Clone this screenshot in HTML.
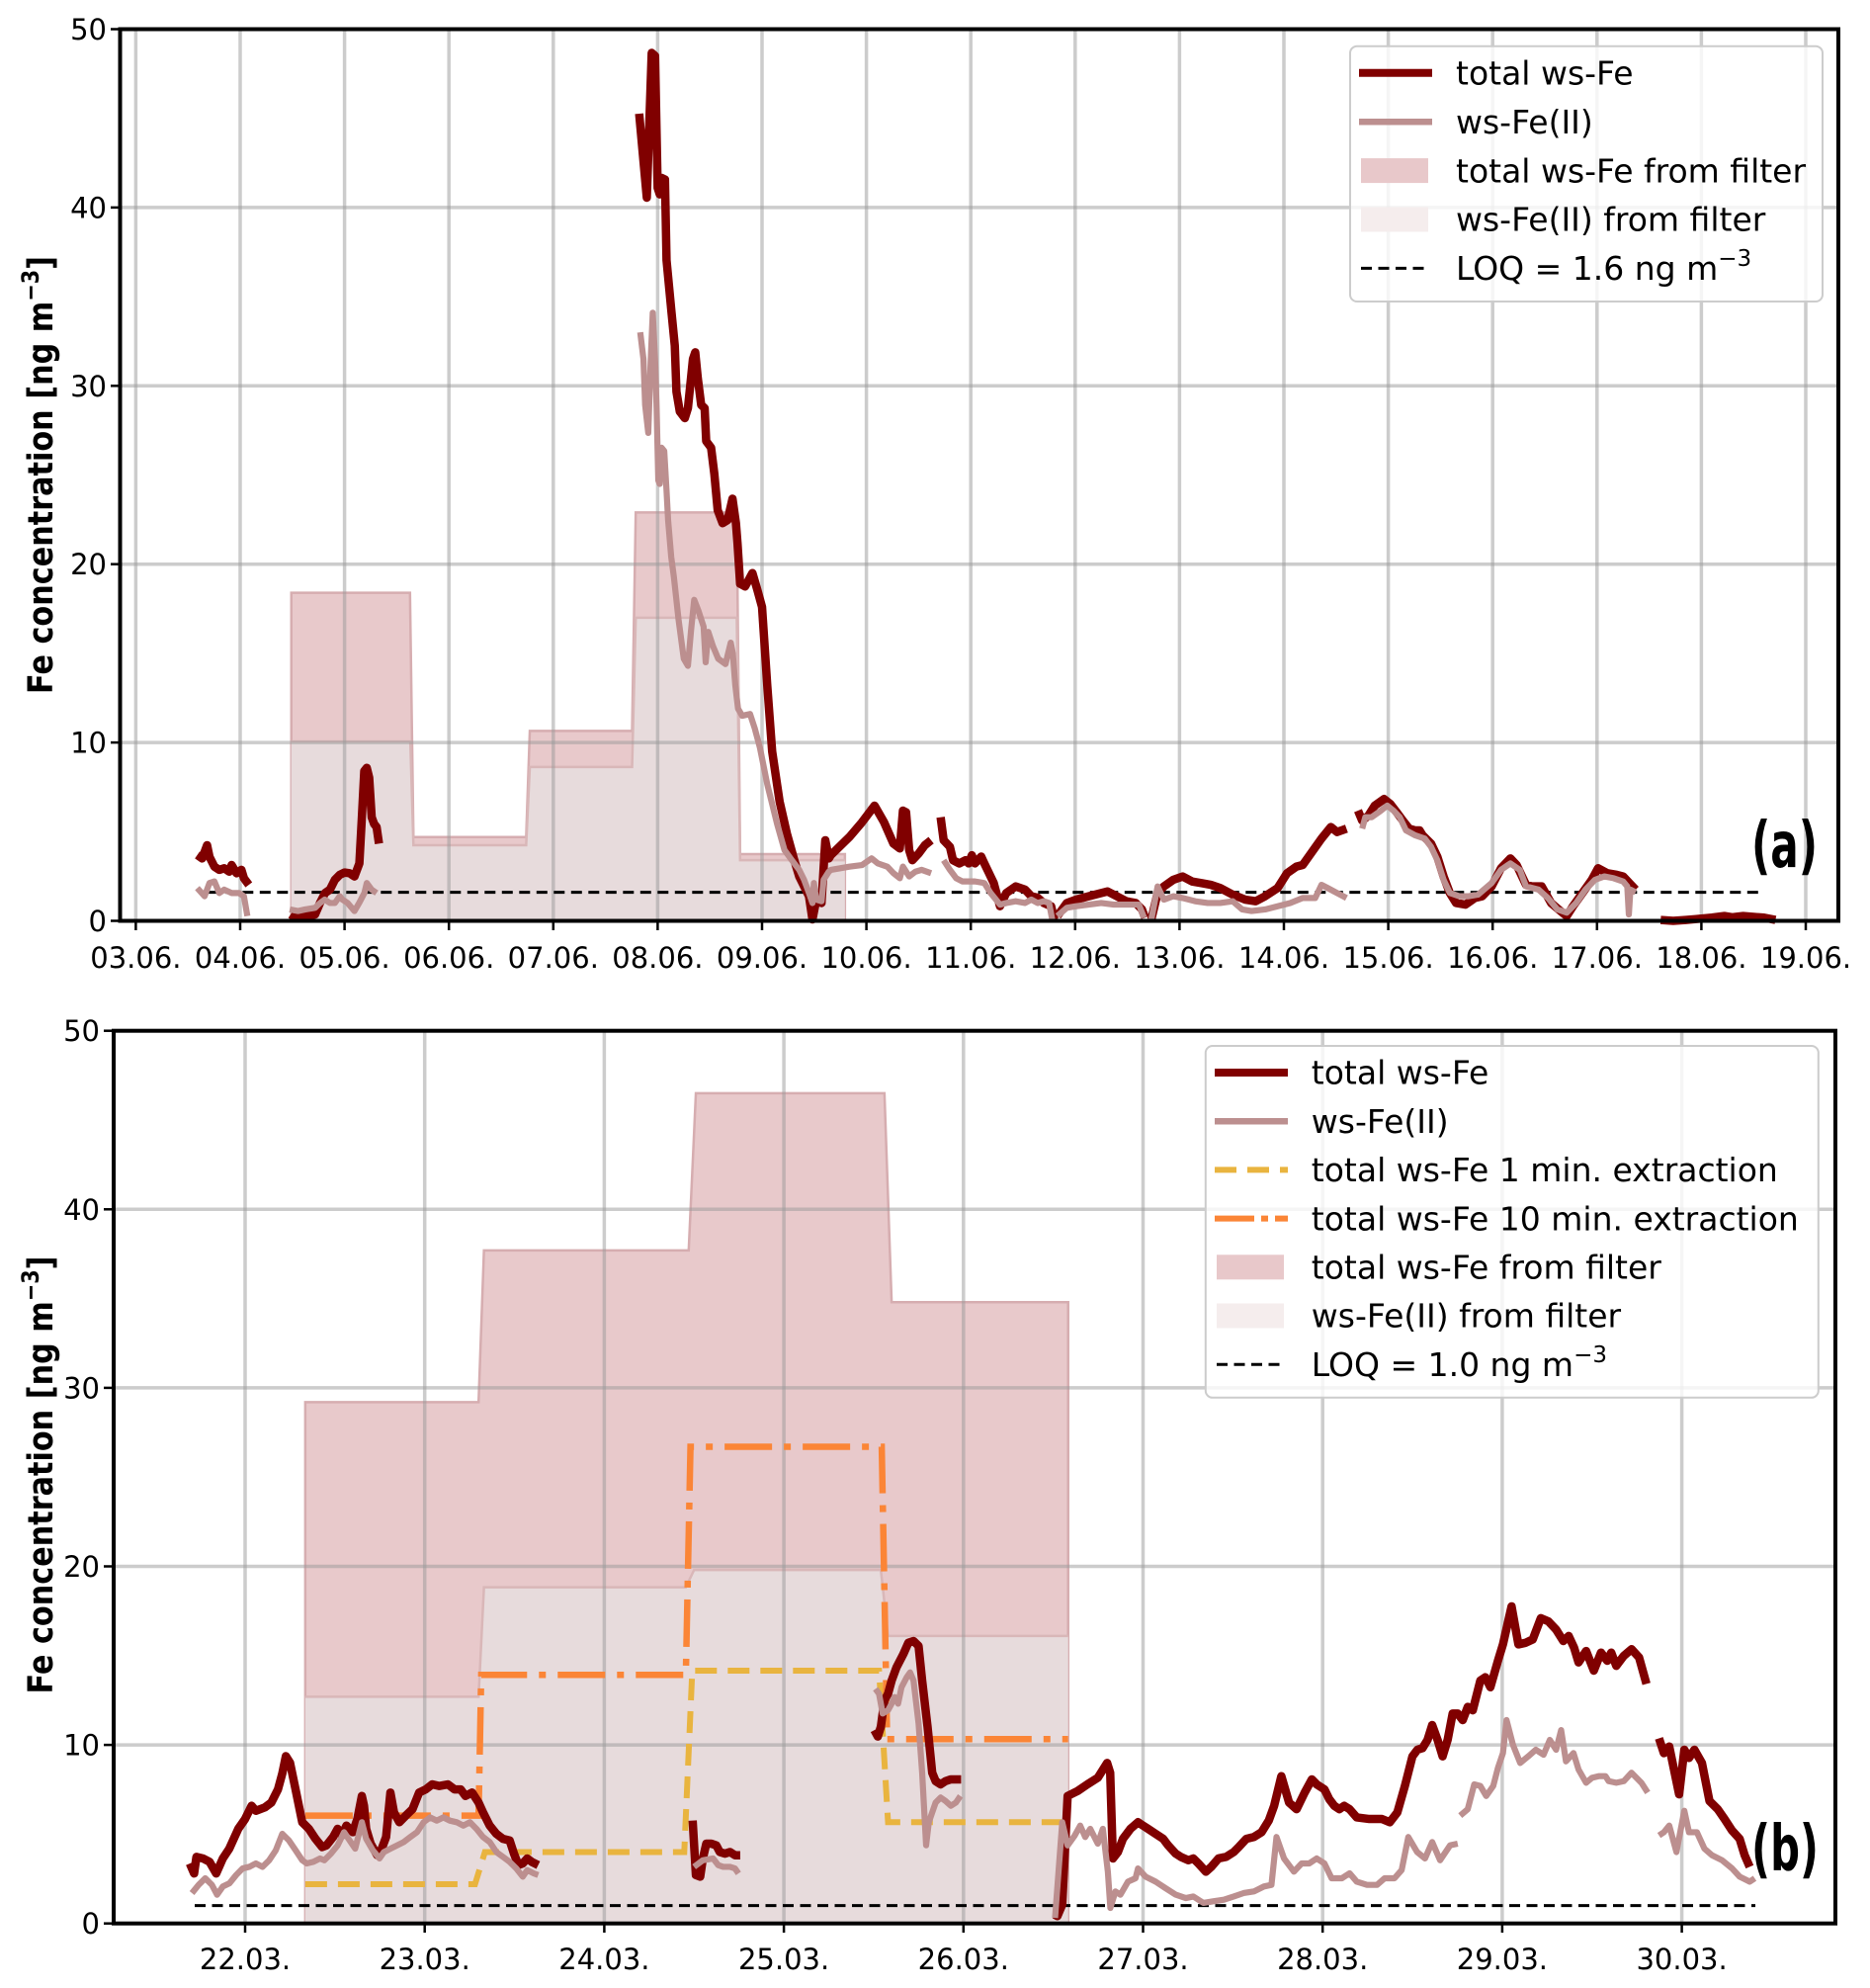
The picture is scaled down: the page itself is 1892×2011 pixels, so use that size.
<!DOCTYPE html>
<html>
<head>
<meta charset="utf-8">
<style>
  html,body{margin:0;padding:0;background:#fff;}
  svg{display:block;}
  text{font-family:"DejaVu Sans","Liberation Sans",sans-serif;fill:#000;}
  .tick{font-size:29px;}
  .leg{font-size:33px;}
  .tot{fill:none;stroke:#800000;stroke-width:8.5;stroke-linejoin:round;}
  .fe2{fill:none;stroke:#bc8f8f;stroke-width:6.2;stroke-linejoin:round;}
  .grid line{stroke:#9a9a9a;stroke-opacity:0.5;stroke-width:3.5;}
  .tk line{stroke:#000;stroke-width:2.5;}
</style>
</head>
<body>
<svg width="1892" height="2011" viewBox="0 0 1892 2011" xmlns="http://www.w3.org/2000/svg">
<rect x="0" y="0" width="1892" height="2011" fill="#fff"/>

<!-- ================= PANEL A ================= -->
<g transform="matrix(105.6,0,0,-18.04,137.4,931.5)">
  <polygon fill="#e8c9cb" points="1.49,0 1.49,18.4 2.627,18.4 2.66,4.7 3.74,4.7 3.775,10.65 4.755,10.65 4.79,22.9 5.758,22.9 5.79,3.74 6.794,3.74 6.794,0"/>
  <polyline fill="none" stroke="#d6adb0" stroke-width="2.5" vector-effect="non-scaling-stroke" points="1.49,0 1.49,18.4 2.627,18.4 2.66,4.7 3.74,4.7 3.775,10.65 4.755,10.65 4.79,22.9 5.758,22.9 5.79,3.74 6.794,3.74 6.794,0"/>
  <polygon fill="#e7dbdc" points="1.49,0 1.49,10.06 2.63,10.06 2.66,4.24 3.74,4.24 3.775,8.63 4.755,8.63 4.79,17.0 5.758,17.0 5.79,3.4 6.794,3.4 6.794,0"/>
  <polyline fill="none" stroke="#d9b7b8" stroke-width="2.5" vector-effect="non-scaling-stroke" points="1.49,10.06 2.63,10.06 2.66,4.24 3.74,4.24 3.775,8.63 4.755,8.63 4.79,17.0 5.758,17.0 5.79,3.4 6.794,3.4"/>
</g>

<g class="grid">
  <line x1="137.4" y1="29.5" x2="137.4" y2="931.5"/>
  <line x1="243.0" y1="29.5" x2="243.0" y2="931.5"/>
  <line x1="348.6" y1="29.5" x2="348.6" y2="931.5"/>
  <line x1="454.2" y1="29.5" x2="454.2" y2="931.5"/>
  <line x1="559.8" y1="29.5" x2="559.8" y2="931.5"/>
  <line x1="665.4" y1="29.5" x2="665.4" y2="931.5"/>
  <line x1="771.0" y1="29.5" x2="771.0" y2="931.5"/>
  <line x1="876.6" y1="29.5" x2="876.6" y2="931.5"/>
  <line x1="982.2" y1="29.5" x2="982.2" y2="931.5"/>
  <line x1="1087.8" y1="29.5" x2="1087.8" y2="931.5"/>
  <line x1="1193.4" y1="29.5" x2="1193.4" y2="931.5"/>
  <line x1="1299.0" y1="29.5" x2="1299.0" y2="931.5"/>
  <line x1="1404.6" y1="29.5" x2="1404.6" y2="931.5"/>
  <line x1="1510.2" y1="29.5" x2="1510.2" y2="931.5"/>
  <line x1="1615.8" y1="29.5" x2="1615.8" y2="931.5"/>
  <line x1="1721.4" y1="29.5" x2="1721.4" y2="931.5"/>
  <line x1="1827.0" y1="29.5" x2="1827.0" y2="931.5"/>
  <line x1="121.5" y1="751.1" x2="1860" y2="751.1"/>
  <line x1="121.5" y1="570.7" x2="1860" y2="570.7"/>
  <line x1="121.5" y1="390.3" x2="1860" y2="390.3"/>
  <line x1="121.5" y1="209.9" x2="1860" y2="209.9"/>
</g>

<!-- LOQ a -->
<line x1="210.3" y1="902.6" x2="1779.5" y2="902.6" stroke="#000" stroke-width="3" stroke-dasharray="11 6.5"/>

<g transform="matrix(105.6,0,0,-18.04,137.4,931.5)">
  <!-- total ws-Fe -->
  <polyline class="tot" vector-effect="non-scaling-stroke" points="0.589,3.69 0.636,3.50 0.683,4.24 0.706,3.59 0.753,3.04 0.800,2.86 0.847,2.95 0.895,2.76 0.918,3.13 0.965,2.67 1.012,2.86 1.036,2.39 1.083,2.02"/>
  <polyline class="tot" vector-effect="non-scaling-stroke" points="1.483,0.36 1.53,0.18 1.624,0.27 1.718,0.36 1.765,1.0 1.813,1.56 1.86,1.75 1.907,2.3 1.954,2.58 2.0,2.71 2.048,2.67 2.095,2.49 2.142,3.22 2.166,5.81 2.189,8.4 2.213,8.58 2.236,8.03 2.26,5.81 2.283,5.44 2.307,5.26 2.33,4.33"/>
  <polyline class="tot" vector-effect="non-scaling-stroke" points="4.823,45.26 4.896,40.55 4.943,48.67 4.975,48.5 5.0,41.1 5.02,40.74 5.038,41.66 5.07,41.57 5.085,37.05 5.133,34.1 5.164,32.25 5.18,29.67 5.212,28.56 5.26,28.19 5.29,28.75 5.338,31.5 5.36,31.88 5.385,30.4 5.417,28.93 5.45,28.75 5.465,26.9 5.512,26.53 5.543,25.06 5.575,23.03 5.622,22.3 5.67,22.47 5.717,23.67 5.75,22.3 5.765,21.18 5.79,18.9 5.838,18.75 5.908,19.5 5.955,18.56 6.0,17.6 6.05,13.2 6.097,9.5 6.168,6.7 6.238,4.9 6.309,3.4 6.356,2.49 6.403,1.93 6.45,1.38 6.483,0.08 6.52,1.19 6.57,1.0 6.606,4.52 6.64,3.5 6.66,3.69 6.837,4.7 6.958,5.53 7.078,6.46 7.169,5.53 7.259,4.33 7.32,4.06 7.35,6.18 7.38,6.09 7.41,3.96 7.44,3.40 7.5,3.77 7.56,4.24 7.62,4.52"/>
  <polyline class="tot" vector-effect="non-scaling-stroke" points="7.711,5.81 7.74,4.52 7.80,4.15 7.83,3.4 7.89,3.22 7.95,3.4 7.98,3.22 8.01,3.68 8.04,3.22 8.10,3.6 8.13,3.22 8.175,2.67 8.22,2.12 8.28,0.82 8.34,1.56 8.43,1.93 8.52,1.75 8.58,1.38 8.64,1.3 8.7,1.0 8.77,0.82 8.8,0.08"/>
  <polyline class="tot" vector-effect="non-scaling-stroke" points="8.83,0.27 8.92,1.0 9.01,1.19 9.13,1.38 9.25,1.56 9.31,1.65 9.37,1.47 9.49,1.1 9.58,1.0 9.64,0.64 9.67,0.18"/>
  <polyline class="tot" vector-effect="non-scaling-stroke" points="9.73,0.08 9.79,1.56 9.85,1.93 9.94,2.3 10.03,2.49 10.12,2.21 10.21,2.12 10.3,2.02 10.39,1.84 10.51,1.47 10.63,1.19 10.73,1.1 10.82,1.38 10.94,1.84 11.03,2.67 11.12,3.04 11.18,3.13 11.27,3.87 11.36,4.61 11.45,5.26 11.51,4.98 11.6,5.17"/>
  <polyline class="tot" vector-effect="non-scaling-stroke" points="11.71,6.18 11.75,5.62 11.81,5.9 11.87,6.46 11.96,6.83 12.02,6.55 12.08,6.09 12.14,5.62 12.2,5.17 12.26,5.07 12.3,5.07 12.33,4.79 12.41,4.33 12.47,3.6 12.53,2.49 12.59,1.56 12.65,1.0 12.74,0.91 12.83,1.28 12.9,1.38 12.99,1.93 13.08,2.95 13.17,3.5 13.23,3.13 13.32,2.02 13.38,1.93 13.47,1.93 13.56,1.0 13.65,0.55 13.71,0.27 13.77,0.82 13.86,1.56 13.95,2.3 14.01,2.95 14.1,2.67 14.19,2.58 14.25,2.49 14.31,2.12 14.37,1.75"/>
  <polyline class="tot" vector-effect="non-scaling-stroke" points="14.61,0.05 14.73,0.0 14.85,0.05 14.95,0.1 15.1,0.18 15.22,0.27 15.3,0.2 15.4,0.27 15.5,0.22 15.6,0.18 15.71,0.05"/>

  <!-- ws-Fe(II) -->
  <polyline class="fe2" vector-effect="non-scaling-stroke" points="0.589,1.84 0.659,1.38 0.706,2.12 0.753,2.21 0.8,1.56 0.847,1.75 0.918,1.56 0.989,1.56 1.036,1.38 1.069,0.27"/>
  <polyline class="fe2" vector-effect="non-scaling-stroke" points="1.474,0.64 1.554,0.55 1.624,0.64 1.718,0.73 1.765,1.0 1.81,1.19 1.86,1.0 1.907,1.0 1.954,1.38 1.98,1.19 2.03,1.0 2.095,0.55 2.14,1.0 2.19,1.56 2.213,2.12 2.26,1.75 2.307,1.56"/>
  <polyline class="fe2" vector-effect="non-scaling-stroke" points="4.833,33.0 4.864,31.5 4.88,28.93 4.91,27.36 4.934,31.5 4.953,34.1 4.975,31.5 4.99,28.75 5.006,24.7 5.02,24.5 5.038,26.53 5.063,26.35 5.085,24.13 5.1,22.47 5.13,20.4 5.155,19.3 5.2,16.9 5.25,14.7 5.29,14.3 5.32,16.3 5.35,18.0 5.39,17.4 5.44,16.5 5.46,14.5 5.485,16.2 5.53,15.4 5.58,14.7 5.65,14.4 5.7,15.6 5.72,15.0 5.744,13.2 5.77,11.9 5.81,11.5 5.885,11.6 5.93,10.8 5.98,9.7 6.05,7.66 6.144,5.44 6.215,3.97 6.286,3.4 6.356,2.86 6.403,2.3 6.45,1.56 6.483,1.0 6.497,2.12 6.52,1.19 6.57,1.1 6.59,2.3 6.64,2.76 6.66,2.86 6.837,3.04 6.958,3.13 7.05,3.5 7.11,3.22 7.2,3.04 7.26,2.67 7.32,2.39 7.35,3.04 7.41,2.49 7.47,2.76 7.53,2.86 7.62,2.67"/>
  <polyline class="fe2" vector-effect="non-scaling-stroke" points="7.74,3.4 7.8,2.86 7.86,2.39 7.92,2.21 8.04,2.21 8.13,2.12 8.19,1.56 8.28,0.91 8.34,1.0 8.43,1.1 8.52,1.0 8.58,1.19 8.64,1.0 8.7,1.1 8.75,1.0 8.78,0.08"/>
  <polyline class="fe2" vector-effect="non-scaling-stroke" points="8.83,0.27 8.92,0.73 9.01,0.82 9.13,0.91 9.25,1.0 9.37,0.91 9.49,0.91 9.61,0.91 9.66,0.18"/>
  <polyline class="fe2" vector-effect="non-scaling-stroke" points="9.73,0.08 9.79,1.93 9.85,1.19 9.94,1.38 10.03,1.28 10.15,1.1 10.27,1.0 10.39,1.0 10.51,1.1 10.6,0.64 10.69,0.55 10.82,0.64 10.94,0.82 11.06,1.0 11.18,1.28 11.3,1.28 11.36,2.02 11.42,1.84 11.51,1.56 11.6,1.28"/>
  <polyline class="fe2" vector-effect="non-scaling-stroke" points="11.75,5.17 11.78,5.81 11.84,5.81 11.93,6.18 11.99,6.46 12.05,6.18 12.11,5.81 12.17,5.07 12.26,4.79 12.35,4.61 12.41,4.15 12.47,3.4 12.53,2.3 12.59,1.56 12.68,1.38 12.77,1.38 12.86,1.47 12.99,2.12 13.08,2.86 13.17,3.22 13.26,2.86 13.32,1.93 13.44,1.75 13.53,1.28 13.62,0.64 13.71,0.46 13.8,1.0 13.89,1.75 13.98,2.3 14.07,2.49 14.16,2.39 14.25,2.21 14.29,1.93 14.305,0.36 14.32,1.75 14.37,1.6"/>
</g>

<!-- spines a -->
<rect x="121.5" y="29.5" width="1738.5" height="902" fill="none" stroke="#000" stroke-width="4"/>
<g class="tk">
  <line x1="137.4" y1="933" x2="137.4" y2="941"/><line x1="243.0" y1="933" x2="243.0" y2="941"/>
  <line x1="348.6" y1="933" x2="348.6" y2="941"/><line x1="454.2" y1="933" x2="454.2" y2="941"/>
  <line x1="559.8" y1="933" x2="559.8" y2="941"/><line x1="665.4" y1="933" x2="665.4" y2="941"/>
  <line x1="771.0" y1="933" x2="771.0" y2="941"/><line x1="876.6" y1="933" x2="876.6" y2="941"/>
  <line x1="982.2" y1="933" x2="982.2" y2="941"/><line x1="1087.8" y1="933" x2="1087.8" y2="941"/>
  <line x1="1193.4" y1="933" x2="1193.4" y2="941"/><line x1="1299.0" y1="933" x2="1299.0" y2="941"/>
  <line x1="1404.6" y1="933" x2="1404.6" y2="941"/><line x1="1510.2" y1="933" x2="1510.2" y2="941"/>
  <line x1="1615.8" y1="933" x2="1615.8" y2="941"/><line x1="1721.4" y1="933" x2="1721.4" y2="941"/>
  <line x1="1827.0" y1="933" x2="1827.0" y2="941"/>
  <line x1="112" y1="931.5" x2="120" y2="931.5"/><line x1="112" y1="751.1" x2="120" y2="751.1"/>
  <line x1="112" y1="570.7" x2="120" y2="570.7"/><line x1="112" y1="390.3" x2="120" y2="390.3"/>
  <line x1="112" y1="209.9" x2="120" y2="209.9"/><line x1="112" y1="29.5" x2="120" y2="29.5"/>
</g>
<g class="tick" text-anchor="middle">
  <text x="137.4" y="979">03.06.</text><text x="243.0" y="979">04.06.</text>
  <text x="348.6" y="979">05.06.</text><text x="454.2" y="979">06.06.</text>
  <text x="559.8" y="979">07.06.</text><text x="665.4" y="979">08.06.</text>
  <text x="771.0" y="979">09.06.</text><text x="876.6" y="979">10.06.</text>
  <text x="982.2" y="979">11.06.</text><text x="1087.8" y="979">12.06.</text>
  <text x="1193.4" y="979">13.06.</text><text x="1299.0" y="979">14.06.</text>
  <text x="1404.6" y="979">15.06.</text><text x="1510.2" y="979">16.06.</text>
  <text x="1615.8" y="979">17.06.</text><text x="1721.4" y="979">18.06.</text>
  <text x="1827.0" y="979">19.06.</text>
</g>
<g class="tick" text-anchor="end">
  <text x="108" y="942">0</text><text x="108" y="761.6">10</text>
  <text x="108" y="581.2">20</text><text x="108" y="400.8">30</text>
  <text x="108" y="220.4">40</text><text x="108" y="40">50</text>
</g>
<text transform="translate(53,480.5) rotate(-90)" text-anchor="middle" font-weight="bold" font-size="35" textLength="443" lengthAdjust="spacingAndGlyphs">Fe concentration [ng m<tspan font-size="24" dy="-14">−3</tspan><tspan dy="14">]</tspan></text>
<text x="1772" y="877" font-weight="bold" font-size="64" textLength="67" lengthAdjust="spacingAndGlyphs">(a)</text>

<!-- legend a -->
<rect x="1366" y="46.7" width="478" height="258.3" rx="7" ry="7" fill="#fff" fill-opacity="0.8" stroke="#cccccc" stroke-width="2"/>
<line x1="1375" y1="73.8" x2="1449" y2="73.8" stroke="#800000" stroke-width="8"/>
<line x1="1375" y1="123.2" x2="1449" y2="123.2" stroke="#bc8f8f" stroke-width="6.5"/>
<rect x="1377" y="160.1" width="68" height="25" fill="#e8c8ca"/>
<rect x="1377" y="209.5" width="68" height="25" fill="#f5eded"/>
<line x1="1377" y1="271.4" x2="1447" y2="271.4" stroke="#000" stroke-width="3" stroke-dasharray="11 6.5"/>
<g class="leg">
  <text x="1473" y="85.5">total ws-Fe</text>
  <text x="1473" y="134.9">ws-Fe(II)</text>
  <text x="1473" y="184.3">total ws-Fe from filter</text>
  <text x="1473" y="233.7">ws-Fe(II) from filter</text>
  <text x="1473" y="283.1">LOQ = 1.6 ng m<tspan font-size="23" dy="-14">−3</tspan></text>
</g>

<!-- ================= PANEL B ================= -->
<g transform="matrix(181.7,0,0,-18.06,248,1945.7)">
  <polygon fill="#e8c9cb" points="0.335,0 0.335,29.2 1.30,29.2 1.33,37.7 2.47,37.7 2.51,46.5 3.56,46.5 3.60,34.8 4.583,34.8 4.583,0"/>
  <polyline fill="none" stroke="#d6adb0" stroke-width="2.5" vector-effect="non-scaling-stroke" points="0.335,0 0.335,29.2 1.30,29.2 1.33,37.7 2.47,37.7 2.51,46.5 3.56,46.5 3.60,34.8 4.583,34.8 4.583,0"/>
  <polygon fill="#e7dbdc" points="0.335,0 0.335,12.7 1.30,12.7 1.33,18.83 2.454,18.83 2.50,19.8 3.54,19.8 3.58,16.1 4.583,16.1 4.583,0"/>
  <polyline fill="none" stroke="#d9b7b8" stroke-width="2.5" vector-effect="non-scaling-stroke" points="0.335,12.7 1.30,12.7 1.33,18.83 2.454,18.83 2.50,19.8 3.54,19.8 3.58,16.1 4.583,16.1"/>
</g>

<g class="grid">
  <line x1="248" y1="1042.7" x2="248" y2="1945.7"/>
  <line x1="429.7" y1="1042.7" x2="429.7" y2="1945.7"/>
  <line x1="611.4" y1="1042.7" x2="611.4" y2="1945.7"/>
  <line x1="793.1" y1="1042.7" x2="793.1" y2="1945.7"/>
  <line x1="974.8" y1="1042.7" x2="974.8" y2="1945.7"/>
  <line x1="1156.5" y1="1042.7" x2="1156.5" y2="1945.7"/>
  <line x1="1338.2" y1="1042.7" x2="1338.2" y2="1945.7"/>
  <line x1="1519.9" y1="1042.7" x2="1519.9" y2="1945.7"/>
  <line x1="1701.6" y1="1042.7" x2="1701.6" y2="1945.7"/>
  <line x1="115" y1="1765.1" x2="1857" y2="1765.1"/>
  <line x1="115" y1="1584.5" x2="1857" y2="1584.5"/>
  <line x1="115" y1="1403.9" x2="1857" y2="1403.9"/>
  <line x1="115" y1="1223.3" x2="1857" y2="1223.3"/>
</g>

<!-- LOQ b -->
<line x1="197" y1="1927.6" x2="1776" y2="1927.6" stroke="#000" stroke-width="3" stroke-dasharray="11 6.5"/>
<!-- 1 min extraction (yellow dashed) -->
<polyline fill="none" stroke="#e9b43f" stroke-width="6" stroke-dasharray="22 11" points="308.9,1906.0 480.6,1906.0 490.6,1873.5 692.3,1873.5 700.4,1690.0 889.4,1690.0 898.5,1843.3 1080.7,1843.3"/>
<!-- 10 min extraction (orange dash-dot) -->
<polyline fill="none" stroke="#fb8536" stroke-width="6.5" stroke-dasharray="48 12 7 12" points="308.9,1836.6 484.2,1836.6 486.9,1694.3 693.9,1694.3 698.6,1463.5 892.1,1463.5 897.6,1759.3 1080.7,1759.3"/>

<g transform="matrix(181.7,0,0,-18.06,248,1945.7)">
  <polyline class="tot" vector-effect="non-scaling-stroke" points="-0.308,3.36 -0.284,2.8 -0.271,3.73 -0.234,3.64 -0.198,3.45 -0.161,2.8 -0.124,3.64 -0.088,4.19 -0.038,5.3 0.0,5.85 0.036,6.59 0.06,6.31 0.11,6.5 0.146,6.77 0.183,7.51 0.207,8.4 0.227,9.37 0.25,9.0 0.281,7.5 0.318,5.67 0.355,5.3 0.392,4.74 0.429,4.28 0.453,4.37 0.49,4.84 0.515,5.3 0.539,4.93 0.564,5.48 0.60,5.11 0.625,5.85 0.65,7.14 0.662,6.59 0.674,5.3 0.699,4.47 0.736,3.82 0.761,4.19 0.785,4.84 0.809,7.33 0.829,6.22 0.859,5.67 0.895,6.04 0.932,6.4 0.969,7.33 1.006,7.51 1.042,7.79 1.08,7.7 1.129,7.79 1.166,7.51 1.2,7.51 1.227,7.14 1.264,7.33 1.3,6.77 1.325,6.22 1.362,5.48 1.399,5.02 1.436,4.74 1.473,4.65 1.497,3.91 1.522,3.27 1.546,3.36 1.571,3.64 1.596,3.45 1.632,3.27"/>
  <polyline class="tot" vector-effect="non-scaling-stroke" points="2.492,5.76 2.51,2.71 2.534,2.62 2.549,3.64 2.568,4.47 2.596,4.47 2.624,4.37 2.643,4.0 2.672,3.91 2.7,4.0 2.728,3.82 2.757,3.82"/>
  <polyline class="tot" vector-effect="non-scaling-stroke" points="3.504,10.83 3.523,10.47 3.54,11.02 3.56,12.5 3.58,12.86 3.6,13.6 3.627,14.34 3.665,15.08 3.693,15.72 3.722,15.82 3.75,15.54 3.77,13.6 3.8,11.02 3.826,8.44 3.845,7.97 3.873,7.79 3.9,7.97 3.93,8.07 3.987,8.07"/>
  <polyline class="tot" vector-effect="non-scaling-stroke" points="4.507,0.5 4.523,0.41 4.55,1.05 4.58,7.14 4.636,7.42 4.69,7.79 4.748,8.16 4.8,8.99 4.817,8.44 4.832,3.64 4.86,4.0 4.888,4.74 4.93,5.3 4.972,5.67 5.0,5.48 5.028,5.3 5.07,5.02 5.112,4.74 5.14,4.37 5.182,3.91 5.21,3.73 5.252,3.54 5.28,3.64 5.308,3.36 5.35,2.9 5.38,3.17 5.42,3.64 5.463,3.73 5.505,4.0 5.533,4.28 5.575,4.74 5.617,4.84 5.66,5.11 5.7,5.76 5.73,6.59 5.77,8.25 5.813,6.77 5.855,6.4 5.9,7.33 5.94,8.07 5.967,7.79 6.01,7.51 6.037,6.96 6.065,6.59 6.093,6.4 6.12,6.59 6.15,6.4 6.19,5.94 6.26,5.85 6.33,5.85 6.374,5.67 6.416,6.22 6.458,7.7 6.5,9.36 6.528,9.73 6.556,9.82 6.584,10.28 6.61,11.11 6.64,10.28 6.668,9.36 6.696,10.28 6.724,11.76 6.752,11.76 6.78,11.39 6.808,12.13 6.836,11.94 6.878,13.6 6.906,13.79 6.934,13.23 6.976,14.71 7.004,15.63 7.052,17.76 7.09,15.63 7.13,15.72 7.17,15.91 7.215,17.1 7.257,16.92 7.3,16.46 7.34,15.82 7.37,16.1 7.4,15.45 7.425,14.62 7.467,15.26 7.51,14.16 7.55,15.17 7.585,14.71 7.607,15.17 7.635,14.43 7.677,14.99 7.72,15.36 7.762,14.9 7.803,13.42"/>
  <polyline class="tot" vector-effect="non-scaling-stroke" points="7.873,10.37 7.9,9.54 7.93,9.91 7.985,7.23 8.014,9.73 8.04,9.27 8.07,9.73 8.112,8.99 8.154,6.86 8.2,6.4 8.238,5.85 8.28,5.2 8.322,4.74 8.35,3.82 8.378,3.17"/>

  <polyline class="fe2" vector-effect="non-scaling-stroke" points="-0.296,1.7 -0.259,2.16 -0.222,2.53 -0.185,2.16 -0.156,1.61 -0.124,2.07 -0.087,2.25 -0.05,2.71 -0.014,3.08 0.023,3.17 0.06,3.36 0.097,3.17 0.134,3.54 0.171,4.1 0.207,5.02 0.244,4.65 0.281,4.1 0.318,3.54 0.343,3.36 0.38,3.45 0.417,3.64 0.441,3.54 0.478,3.91 0.515,4.37 0.551,5.11 0.588,4.56 0.613,4.19 0.65,5.67 0.674,4.74 0.711,4.1 0.748,3.64 0.773,4.0 0.81,4.19 0.846,4.37 0.883,4.56 0.92,4.84 0.957,5.11 0.994,5.67 1.03,5.94 1.067,5.76 1.104,5.94 1.14,5.76 1.178,5.67 1.215,5.48 1.252,5.67 1.288,5.3 1.325,4.84 1.362,4.56 1.399,4.0 1.436,3.73 1.473,3.45 1.51,3.08 1.546,2.62 1.571,2.99 1.608,2.8 1.632,2.71"/>
  <polyline class="fe2" vector-effect="non-scaling-stroke" points="2.5,3.17 2.549,3.54 2.606,3.64 2.634,3.27 2.662,3.17 2.7,3.17 2.728,3.08 2.747,2.8"/>
  <polyline class="fe2" vector-effect="non-scaling-stroke" points="3.51,13.14 3.53,12.86 3.55,11.76 3.58,11.94 3.6,12.31 3.617,12.68 3.636,12.31 3.655,13.23 3.684,13.79 3.703,14.06 3.722,13.6 3.75,11.2 3.77,8.44 3.792,4.38 3.807,5.67 3.826,6.22 3.845,6.77 3.873,7.05 3.9,6.86 3.93,6.59 3.958,6.77 3.983,7.14"/>
  <polyline class="fe2" vector-effect="non-scaling-stroke" points="4.51,0.31 4.55,5.67 4.58,4.37 4.62,4.93 4.65,5.48 4.678,4.84 4.706,5.3 4.748,4.47 4.776,5.3 4.804,2.9 4.818,0.87 4.846,1.79 4.874,1.61 4.916,2.34 4.958,2.53 4.972,3.08 5.014,2.62 5.07,2.34 5.126,1.97 5.182,1.61 5.238,1.42 5.28,1.51 5.336,1.15 5.39,1.24 5.45,1.33 5.505,1.51 5.56,1.7 5.617,1.79 5.673,2.07 5.715,2.16 5.743,4.84 5.785,3.64 5.84,2.9 5.883,3.36 5.925,3.36 5.967,3.64 6.01,3.36 6.05,2.53 6.107,2.53 6.15,2.81 6.19,2.34 6.247,2.16 6.303,2.16 6.345,2.53 6.4,2.53 6.44,2.99 6.477,4.84 6.526,4.0 6.57,3.64 6.61,4.56 6.654,3.54 6.71,4.38 6.752,4.47"/>
  <polyline class="fe2" vector-effect="non-scaling-stroke" points="6.766,6.04 6.808,6.4 6.844,7.79 6.878,7.7 6.911,7.14 6.95,7.7 6.976,8.71 7.004,9.54 7.024,11.39 7.06,10.0 7.1,8.99 7.145,9.36 7.187,9.73 7.23,9.45 7.265,10.28 7.3,9.73 7.328,10.83 7.355,9.08 7.397,9.54 7.425,8.62 7.467,7.88 7.5,8.16 7.537,8.25 7.575,8.25 7.593,7.97 7.635,7.88 7.677,7.97 7.72,8.44 7.775,7.88 7.81,7.33"/>
  <polyline class="fe2" vector-effect="non-scaling-stroke" points="7.873,4.93 7.9,5.11 7.93,5.48 7.97,4.0 8.014,6.31 8.04,5.11 8.084,5.11 8.126,4.19 8.168,3.82 8.224,3.54 8.28,3.08 8.322,2.62 8.378,2.34 8.406,2.53"/>
</g>

<!-- spines b -->
<rect x="115" y="1042.7" width="1742" height="903" fill="none" stroke="#000" stroke-width="4"/>
<g class="tk">
  <line x1="248" y1="1947" x2="248" y2="1955"/><line x1="429.7" y1="1947" x2="429.7" y2="1955"/>
  <line x1="611.4" y1="1947" x2="611.4" y2="1955"/><line x1="793.1" y1="1947" x2="793.1" y2="1955"/>
  <line x1="974.8" y1="1947" x2="974.8" y2="1955"/><line x1="1156.5" y1="1947" x2="1156.5" y2="1955"/>
  <line x1="1338.2" y1="1947" x2="1338.2" y2="1955"/><line x1="1519.9" y1="1947" x2="1519.9" y2="1955"/>
  <line x1="1701.6" y1="1947" x2="1701.6" y2="1955"/>
  <line x1="105" y1="1945.7" x2="113" y2="1945.7"/><line x1="105" y1="1765.1" x2="113" y2="1765.1"/>
  <line x1="105" y1="1584.5" x2="113" y2="1584.5"/><line x1="105" y1="1403.9" x2="113" y2="1403.9"/>
  <line x1="105" y1="1223.3" x2="113" y2="1223.3"/><line x1="105" y1="1042.7" x2="113" y2="1042.7"/>
</g>
<g class="tick" text-anchor="middle">
  <text x="248" y="1992">22.03.</text><text x="429.7" y="1992">23.03.</text>
  <text x="611.4" y="1992">24.03.</text><text x="793.1" y="1992">25.03.</text>
  <text x="974.8" y="1992">26.03.</text><text x="1156.5" y="1992">27.03.</text>
  <text x="1338.2" y="1992">28.03.</text><text x="1519.9" y="1992">29.03.</text>
  <text x="1701.6" y="1992">30.03.</text>
</g>
<g class="tick" text-anchor="end">
  <text x="101" y="1956.2">0</text><text x="101" y="1775.6">10</text>
  <text x="101" y="1595">20</text><text x="101" y="1414.4">30</text>
  <text x="101" y="1233.8">40</text><text x="101" y="1053.2">50</text>
</g>
<text transform="translate(53,1492) rotate(-90)" text-anchor="middle" font-weight="bold" font-size="35" textLength="443" lengthAdjust="spacingAndGlyphs">Fe concentration [ng m<tspan font-size="24" dy="-14">−3</tspan><tspan dy="14">]</tspan></text>
<text x="1772" y="1892" font-weight="bold" font-size="64" textLength="68" lengthAdjust="spacingAndGlyphs">(b)</text>

<!-- legend b -->
<rect x="1219.8" y="1058" width="620" height="355.8" rx="7" ry="7" fill="#fff" fill-opacity="0.8" stroke="#cccccc" stroke-width="2"/>
<line x1="1229" y1="1085" x2="1303" y2="1085" stroke="#800000" stroke-width="8"/>
<line x1="1229" y1="1134.2" x2="1303" y2="1134.2" stroke="#bc8f8f" stroke-width="6.5"/>
<line x1="1229" y1="1183.4" x2="1303" y2="1183.4" stroke="#e9b43f" stroke-width="6" stroke-dasharray="22 11"/>
<line x1="1229" y1="1232.6" x2="1303" y2="1232.6" stroke="#fb8536" stroke-width="6" stroke-dasharray="40 7 7 7"/>
<rect x="1231" y="1269.3" width="68" height="25" fill="#e8c8ca"/>
<rect x="1231" y="1318.5" width="68" height="25" fill="#f5eded"/>
<line x1="1231" y1="1380.2" x2="1301" y2="1380.2" stroke="#000" stroke-width="3" stroke-dasharray="11 6.5"/>
<g class="leg">
  <text x="1326.8" y="1096.7">total ws-Fe</text>
  <text x="1326.8" y="1145.9">ws-Fe(II)</text>
  <text x="1326.8" y="1195.1">total ws-Fe 1 min. extraction</text>
  <text x="1326.8" y="1244.3">total ws-Fe 10 min. extraction</text>
  <text x="1326.8" y="1293.5">total ws-Fe from filter</text>
  <text x="1326.8" y="1342.7">ws-Fe(II) from filter</text>
  <text x="1326.8" y="1391.9">LOQ = 1.0 ng m<tspan font-size="23" dy="-14">−3</tspan></text>
</g>
</svg>
</body>
</html>
